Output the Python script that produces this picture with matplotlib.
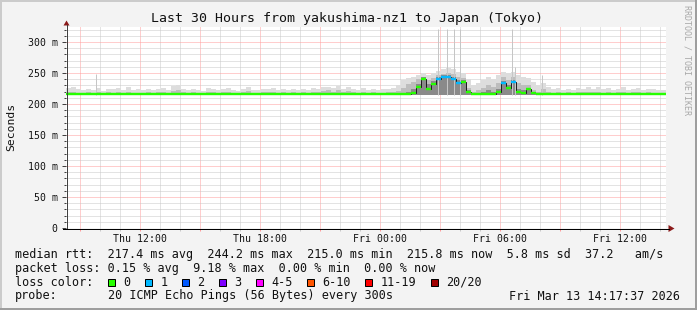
import matplotlib
matplotlib.use("Agg")
import matplotlib.pyplot as plt
import matplotlib.dates as mdates
from matplotlib.lines import Line2D
from matplotlib.patches import Rectangle, Polygon
from matplotlib.ticker import MultipleLocator, FuncFormatter
from datetime import datetime, timedelta
import numpy as np

# ---------------- data ----------------
start = datetime(2026, 3, 12, 8, 17, 37)
step_minutes = 15

median = [
    215.6, 215.5, 215.6, 215.8, 216.8, 215.6, 216.9, 215.7, 215.6, 215.5, 215.6, 215.5, 215.6, 215.7, 215.6,
    215.5, 215.6, 215.7, 215.5, 215.6, 215.6, 215.5, 215.7, 215.6, 215.5, 215.6, 215.5, 215.6, 215.7, 215.6,
    215.5, 215.6, 215.5, 215.7, 215.6, 215.5, 215.6, 215.6, 215.5, 215.7, 215.6, 215.5, 215.6, 215.5, 215.6,
    215.5, 215.6, 215.5, 215.6, 215.7, 215.6, 215.8, 216.6, 215.7, 215.6, 215.5, 215.6, 215.5, 215.6, 215.6,
    215.5, 215.6, 215.6, 215.5, 215.6, 215.7, 215.8, 216.0, 216.2, 217.0, 228.0, 241.0, 224.0, 232.0, 240.0,
    243.0, 244.2, 241.0, 234.0, 236.0, 219.0, 216.0, 216.2, 215.6, 216.0, 216.4, 220.0, 234.0, 226.0, 236.0,
    219.0, 218.0, 224.0, 217.0, 216.0, 215.6, 215.6, 215.5, 215.6, 215.5, 215.6, 215.7, 215.5, 215.6, 215.6,
    215.8, 216.5, 215.6, 215.5, 215.6, 215.5, 215.6, 215.6, 215.5, 215.6, 215.5, 215.6, 215.5, 215.6, 215.8,
]

loss = [
    0, 0, 0, 0, 0, 0, 0, 0, 0, 0, 0, 0, 0, 0, 0,
    0, 0, 0, 0, 0, 0, 0, 0, 0, 0, 0, 0, 0, 0, 0,
    0, 0, 0, 0, 0, 0, 0, 0, 0, 0, 0, 0, 0, 0, 0,
    0, 0, 0, 0, 0, 0, 0, 0, 0, 0, 0, 0, 0, 0, 0,
    0, 0, 0, 0, 0, 0, 0, 0, 0, 0, 0, 0, 0, 0, 1,
    1, 1, 1, 1, 0, 0, 0, 0, 0, 0, 0, 0, 1, 0, 1,
    0, 0, 0, 0, 0, 0, 0, 0, 0, 0, 0, 0, 0, 0, 0,
    0, 0, 0, 0, 0, 0, 0, 0, 0, 0, 0, 0, 0, 0, 0,
]

smoke_hi = [
    226, 227, 224, 222, 225, 223, 226, 221, 225, 224, 226, 223, 227, 222, 224,
    223, 225, 222, 224, 226, 223, 229, 231, 224, 222, 225, 223, 221, 226, 224,
    222, 225, 226, 223, 221, 224, 227, 223, 222, 225, 224, 226, 222, 224, 223,
    225, 222, 224, 223, 226, 224, 227, 228, 226, 229, 224, 227, 225, 223, 226,
    223, 225, 222, 224, 224, 226, 230, 238, 242, 244, 246, 250, 246, 250, 254,
    257, 258, 256, 252, 250, 240, 230, 234, 238, 243, 240, 246, 252, 250, 252,
    247, 244, 242, 236, 231, 234, 228, 224, 226, 223, 225, 222, 226, 224, 227,
    225, 228, 224, 226, 223, 225, 227, 222, 224, 226, 223, 225, 224, 222, 223,
]

smoke_mid = [
    219, 220, 218, 218, 219, 218, 220, 218, 219, 218, 220, 218, 219, 218, 218,
    218, 219, 218, 219, 220, 218, 221, 222, 219, 218, 219, 218, 218, 220, 219,
    218, 219, 220, 218, 218, 219, 221, 218, 218, 219, 219, 220, 218, 219, 218,
    219, 218, 219, 218, 220, 219, 221, 222, 220, 222, 219, 221, 219, 218, 220,
    218, 219, 218, 218, 219, 220, 221, 226, 232, 236, 240, 244, 238, 242, 246,
    249, 250, 248, 244, 242, 226, 219, 222, 226, 230, 228, 234, 243, 238, 243,
    234, 230, 230, 222, 220, 224, 219, 218, 219, 218, 219, 218, 220, 219, 219,
    219, 220, 218, 219, 218, 219, 220, 218, 219, 220, 218, 219, 218, 218, 218,
]

smoke_dark = [
    215, 215, 215, 215, 215, 215, 215, 215, 215, 215, 215, 215, 215, 215, 215,
    215, 215, 215, 215, 215, 215, 215, 215, 215, 215, 215, 215, 215, 215, 215,
    215, 215, 215, 215, 215, 215, 215, 215, 215, 215, 215, 215, 215, 215, 215,
    215, 215, 215, 215, 215, 215, 215, 215, 215, 215, 215, 215, 215, 215, 215,
    215, 215, 215, 215, 215, 215, 215, 218, 220, 224, 232, 243, 232, 237, 243,
    246, 247, 244, 238, 238, 222, 217, 218, 219, 222, 220, 224, 237, 230, 238,
    224, 222, 226, 218, 216, 218, 215, 215, 215, 215, 215, 215, 215, 215, 215,
    215, 215, 215, 215, 215, 215, 215, 215, 215, 215, 215, 215, 215, 215, 215,
]
smoke_floor = 215.0

spike_hours = [1.52, 18.6, 19.06, 19.41, 19.71, 22.3, 22.45, 23.82]
spike_tops = [248, 321, 321, 321, 321, 321, 259, 246]

loss_labels = ["0", "1", "2", "3", "4-5", "6-10", "11-19", "20/20"]
loss_lo = [0, 1, 2, 3, 4, 6, 11, 20]
loss_hi = [0, 1, 2, 3, 5, 10, 19, 20]
loss_colors = ["#26ff00", "#00b8ff", "#0059ff", "#7e00ff", "#ff00ff", "#ff5500", "#ff0000", "#a00000"]

title = "Last 30 Hours from yakushima-nz1 to Japan (Tokyo)"
rtt_stats = ["217.4", "244.2", "215.0", "215.8"]
rtt_sd = "5.8"
rtt_ams = "37.2"
loss_stats = ["0.15", "9.18", "0.00", "0.00"]
probe_text = "20 ICMP Echo Pings (56 Bytes) every 300s"
stamp = "Fri Mar 13 14:17:37 2026"

# ---------------- figure ----------------
W, H, DPI = 697, 310, 100
plt.rcParams['font.family'] = ['DejaVu Sans Mono']
BG = '#f3f3f3'
fig = plt.figure(figsize=(W / DPI, H / DPI), dpi=DPI, facecolor=BG)


def fx(x):
    return x / W


def fy(y):
    return 1 - y / H


PX = 72.0 / DPI  # points per pixel

ax = fig.add_axes([fx(66), fy(228), 600 / W, (228 - 26.5) / H])
ax.set_facecolor('white')
for s in ax.spines.values():
    s.set_visible(False)

n = len(median)
edges = [start + timedelta(minutes=step_minutes * i) for i in range(n + 1)]
en = mdates.date2num(edges)
med = np.array(median, dtype=float)
lossa = np.array(loss)

ax.stairs(smoke_hi, en, baseline=smoke_floor, fill=True, color='#dddddd', lw=0, zorder=2)
ax.stairs(smoke_mid, en, baseline=smoke_floor, fill=True, color='#bdbdbd', lw=0, zorder=2.1)
ax.stairs(smoke_dark, en, baseline=smoke_floor, fill=True, color='#8a8a8a', lw=0, zorder=2.15)
spike_t = mdates.date2num([start + timedelta(hours=h) for h in spike_hours])
ax.vlines(spike_t, smoke_floor, spike_tops, color='#c6c6c6', lw=1 * PX, zorder=2.2)
ax.stairs(med, en, baseline=None, color='#202020', lw=1 * PX, zorder=3)
for lo, hi, c in zip(loss_lo, loss_hi, loss_colors):
    m = (lossa >= lo) & (lossa <= hi)
    if m.any():
        ax.hlines(med[m], en[:-1][m], en[1:][m], colors=c, lw=2.4 * PX, zorder=4)

ax.set_xlim(en[0], en[-1])
ax.set_ylim(0, 325)
ax.xaxis_date()
ax.xaxis.set_major_locator(mdates.HourLocator(byhour=range(0, 24, 3)))
ax.xaxis.set_minor_locator(mdates.HourLocator())


def xfmt(v, p):
    d = mdates.num2date(v)
    return d.strftime('%a %H:%M') if d.hour % 6 == 0 else ''


ax.xaxis.set_major_formatter(FuncFormatter(xfmt))
ax.yaxis.set_major_locator(MultipleLocator(50))
ax.yaxis.set_minor_locator(MultipleLocator(10))
ax.yaxis.set_major_formatter(FuncFormatter(lambda v, p: '0' if v == 0 else f'{int(v)} m'))

ax.set_axisbelow(True)
ax.grid(which='minor', color='#c8c8c8', ls=(0, (1, 1)), lw=1 * PX)
ax.grid(which='major', color='#ff9c9c', ls=(0, (1, 1)), lw=1 * PX)

ax.tick_params(axis='x', which='major', length=3 * PX, width=1 * PX, color='#ff9c9c',
               labelsize=7.1, pad=2.5, labelcolor='#111111')
ax.tick_params(axis='x', which='minor', length=3 * PX, width=1 * PX, color='#c8c8c8')
ax.tick_params(axis='y', which='major', length=4 * PX, width=1 * PX, color='#404040',
               labelsize=7.1, pad=3 * PX * 1.4, labelcolor='#111111')
ax.tick_params(axis='y', which='minor', length=2 * PX, width=1 * PX, color='#404040')

# axis lines with arrows
fig.add_artist(Line2D([fx(66.5), fx(66.5)], [fy(228), fy(25)], color='#404040', lw=1 * PX))
fig.add_artist(Line2D([fx(63), fx(669)], [fy(228.5), fy(228.5)], color='#000000', lw=1 * PX))
arrow_c = '#8b1a1a'
fig.add_artist(Polygon([[fx(63.5), fy(25.5)], [fx(69.5), fy(25.5)], [fx(66.5), fy(20.5)]],
                       closed=True, color=arrow_c, lw=0))
fig.add_artist(Polygon([[fx(668.5), fy(225)], [fx(668.5), fy(232)], [fx(674.5), fy(228.5)]],
                       closed=True, color=arrow_c, lw=0))

# frame
fig.add_artist(Line2D([fx(0), fx(697)], [fy(1), fy(1)], color='#cbcbcb', lw=2 * PX))
fig.add_artist(Line2D([fx(1), fx(1)], [fy(0), fy(310)], color='#cbcbcb', lw=2 * PX))
fig.add_artist(Line2D([fx(0), fx(697)], [fy(309), fy(309)], color='#9e9e9e', lw=2 * PX))
fig.add_artist(Line2D([fx(696), fx(696)], [fy(0), fy(310)], color='#9e9e9e', lw=2 * PX))

# texts
fig.text(fx(347), fy(18.5), title, ha='center', va='center', fontsize=9.5, color='#111111')
fig.text(fx(11), fy(127), 'Seconds', rotation=90, ha='center', va='center', fontsize=8.2,
         color='#111111')
fig.text(fx(687), fy(5), 'RRDTOOL / TOBI OETIKER', rotation=270, ha='center', va='top',
         fontsize=6, color='#a8a8a8')

LFS = 8.5
CW = 7.12
X0 = 15.0
row1 = ("median rtt:  " + f"{rtt_stats[0]} ms avg  {rtt_stats[1]} ms max  "
        f"{rtt_stats[2]} ms min  {rtt_stats[3]} ms now  {rtt_sd} ms sd  {rtt_ams}   am/s")
row2 = ("packet loss: " + f"{loss_stats[0]} % avg  {loss_stats[1]} % max  "
        f"{loss_stats[2]} % min  {loss_stats[3]} % now")
fig.text(fx(X0), fy(254.3), row1, va='center', fontsize=LFS, color='#111111')
fig.text(fx(X0), fy(268.3), row2, va='center', fontsize=LFS, color='#111111')
fig.text(fx(X0), fy(282.3), "loss color:", va='center', fontsize=LFS, color='#111111')
col = 13.0
for lab, c in zip(loss_labels, loss_colors):
    bx = X0 + col * CW
    fig.add_artist(Rectangle((fx(bx), fy(286.2)), 7 / W, 7 / H, facecolor=c,
                             edgecolor='black', lw=1 * PX))
    tcol = col + 2.2
    fig.text(fx(X0 + tcol * CW), fy(282.3), lab, va='center', fontsize=LFS, color='#111111')
    col = tcol + len(lab) + 2
fig.text(fx(X0), fy(296), "probe:", va='center', fontsize=LFS, color='#111111')
fig.text(fx(X0 + 13 * CW), fy(296), probe_text, va='center', fontsize=LFS, color='#111111')
fig.text(fx(680), fy(296), stamp, ha='right', va='center', fontsize=LFS, color='#111111')

fig.savefig('out.png', dpi=DPI, facecolor=BG)
